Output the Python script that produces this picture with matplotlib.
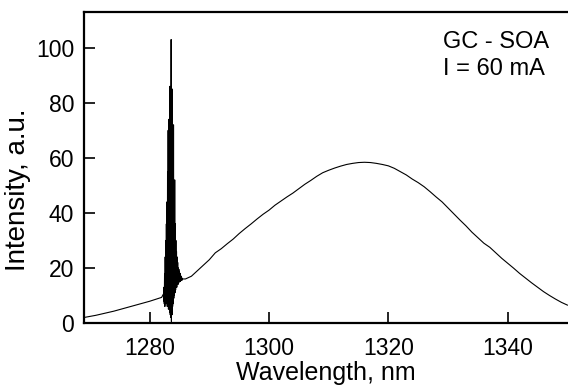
import matplotlib
matplotlib.use("Agg")
import matplotlib.pyplot as plt

plt.rcParams['font.family'] = ['Liberation Sans', 'DejaVu Sans']

# Broad spontaneous-emission spectrum (nm, a.u.)
base_left_wl = [1269, 1270, 1271, 1272, 1273, 1274, 1275, 1276, 1277, 1278,
                1279, 1280, 1281, 1282]
base_left_int = [2.0, 2.4, 2.8, 3.3, 3.8, 4.3, 4.9, 5.5, 6.1, 6.7,
                 7.3, 7.9, 8.6, 9.3]

# Lasing spike region (dense oscillation)
spike_wl = [1282.30, 1282.35, 1282.40, 1282.45, 1282.50, 1282.55, 1282.60, 1282.65,
            1282.70, 1282.75, 1282.80, 1282.85, 1282.90, 1282.95, 1283.00, 1283.05,
            1283.10, 1283.15, 1283.20, 1283.25, 1283.30, 1283.35, 1283.40, 1283.45,
            1283.50, 1283.55, 1283.60, 1283.65, 1283.70, 1283.75, 1283.80, 1283.85,
            1283.90, 1283.95, 1284.00, 1284.05, 1284.10, 1284.15, 1284.20, 1284.25,
            1284.30, 1284.35, 1284.40, 1284.45, 1284.50, 1284.55, 1284.60, 1284.65,
            1284.70, 1284.75, 1284.80, 1284.85, 1284.90, 1284.95, 1285.00, 1285.05,
            1285.10, 1285.15, 1285.20, 1285.25, 1285.30, 1285.35, 1285.40, 1285.45,
            1285.50]
spike_int = [10.5, 8.0, 13, 7, 18, 6, 24, 8,
             30, 7, 36, 9, 44, 6, 55, 8,
             70, 5, 74, 7, 62, 4, 86, 3,
             78, 2, 103, 0.5, 66, 3, 85, 6,
             58, 7, 72, 9, 48, 10, 52, 11,
             36, 12, 30, 13, 26, 13, 24, 14,
             22, 14, 20, 14.5, 19.5, 15, 18.5, 15,
             18, 15.2, 17.2, 15.4, 16.8, 15.5, 16.4, 15.6,
             16.0]

base_right_wl = [1286, 1287, 1288, 1289, 1290, 1291, 1292, 1293, 1294, 1295,
                 1296, 1297, 1298, 1299, 1300, 1301, 1302, 1303, 1304, 1305,
                 1306, 1307, 1308, 1309, 1310, 1311, 1312, 1313, 1314, 1315,
                 1316, 1317, 1318, 1319, 1320, 1321, 1322, 1323, 1324, 1325,
                 1326, 1327, 1328, 1329, 1330, 1331, 1332, 1333, 1334, 1335,
                 1336, 1337, 1338, 1339, 1340, 1341, 1342, 1343, 1344, 1345,
                 1346, 1347, 1348, 1349, 1350]
base_right_int = [16.0, 17.0, 19.0, 21.0, 23.0, 25.5, 27.0, 28.8, 30.5, 32.5,
                  34.3, 36.0, 37.8, 39.5, 41.0, 42.8, 44.3, 45.8, 47.2, 48.8,
                  50.4, 51.8, 53.3, 54.6, 55.5, 56.3, 57.0, 57.6, 58.0, 58.3,
                  58.4, 58.3, 58.0, 57.6, 57.1, 56.2, 55.0, 53.8, 52.3, 51.0,
                  49.5, 47.7, 45.8, 44.0, 41.8, 39.6, 37.4, 35.3, 33.0, 31.0,
                  29.0, 27.5, 25.5, 23.5, 21.7, 19.9, 18.0, 16.3, 14.6, 13.0,
                  11.4, 10.0, 8.7, 7.5, 6.5]

x_ticks = [1280, 1300, 1320, 1340]
y_ticks = [0, 20, 40, 60, 80, 100]

wl = base_left_wl + spike_wl + base_right_wl
inten = base_left_int + spike_int + base_right_int

fig = plt.figure(figsize=(5.68, 3.85), dpi=100)
ax = fig.add_axes([84/568, 1 - 323/385, (568 - 84)/568, (323 - 12)/385])
ax.plot(wl, inten, color='black', lw=0.8)

ax.set_xlim(1269, 1350.1)
ax.set_ylim(0, 113)
ax.set_xticks(x_ticks)
ax.set_yticks(y_ticks)
ax.tick_params(direction='in', length=8, width=1.2, labelsize=16.5, color='black')
ax.tick_params(axis='x', pad=10)
ax.tick_params(axis='y', pad=7)
for s in ['left', 'bottom', 'top']:
    ax.spines[s].set_linewidth(1.6)
ax.spines['right'].set_visible(False)

ax.set_xlabel('Wavelength, nm', fontsize=18, labelpad=1)
ax.set_ylabel('Intensity, a.u.', fontsize=20)
ax.yaxis.set_label_coords(-0.11, 0.43)

ax.text(0.742, 0.94, 'GC - SOA\nI = 60 mA', transform=ax.transAxes, fontsize=17,
        ha='left', va='top', linespacing=1.3)

fig.savefig('out.png', dpi=100)
